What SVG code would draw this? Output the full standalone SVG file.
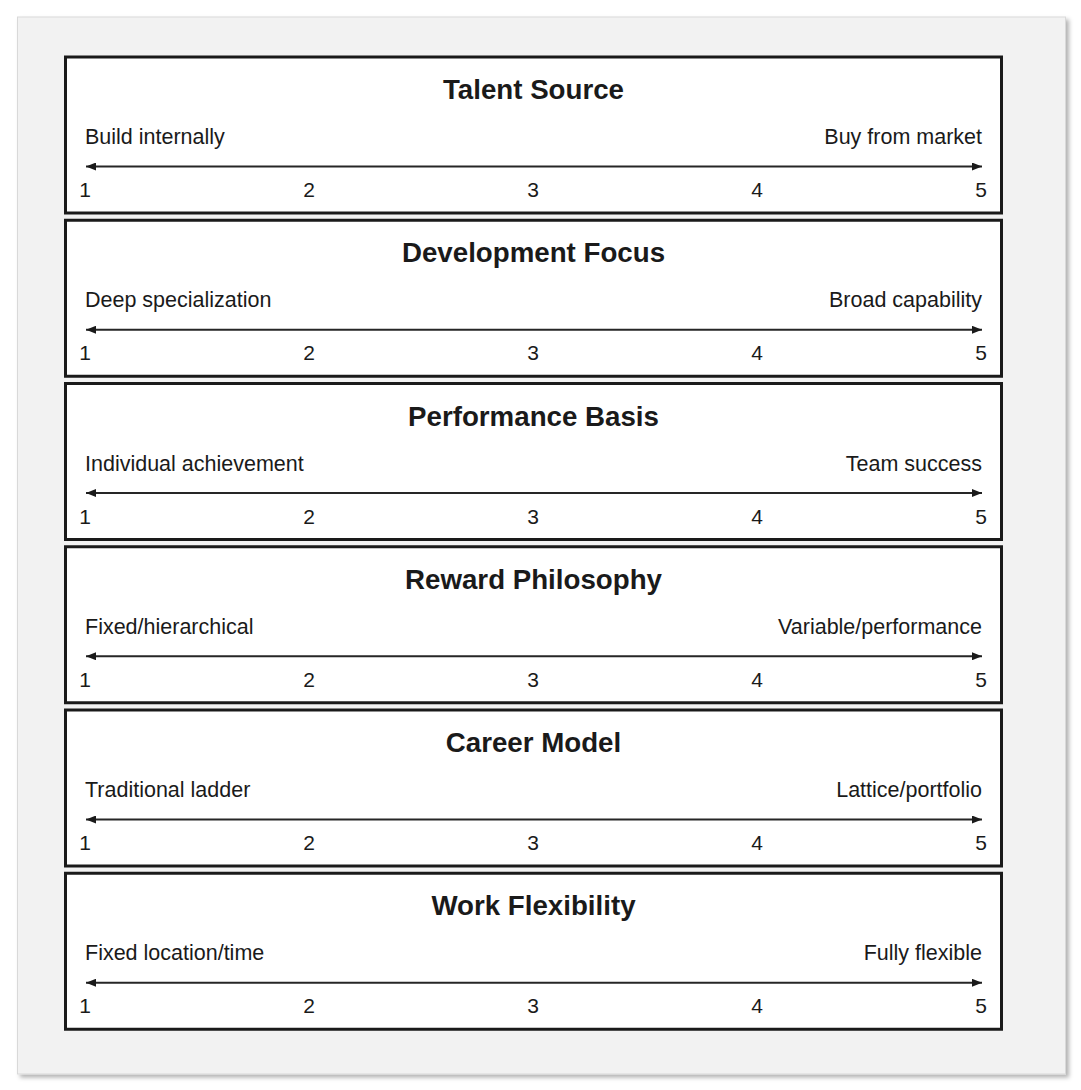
<svg xmlns="http://www.w3.org/2000/svg" width="1081" height="1090" viewBox="0 0 1081 1090">
<style>
.box{fill:#ffffff;stroke:#1a1a1a;stroke-width:3}
.title{font-family:"Liberation Sans",Arial,sans-serif;font-weight:bold;font-size:27.7px;fill:#1a1a1a;text-anchor:middle}
.lbl{font-family:"Liberation Sans",Arial,sans-serif;font-size:21.5px;fill:#1a1a1a}
.num{font-family:"Liberation Sans",Arial,sans-serif;font-size:21px;fill:#1a1a1a;text-anchor:middle}
.axis{stroke:#262626;stroke-width:2;fill:none;marker-start:url(#ah);marker-end:url(#ah)}
</style>
<defs>
<marker id="ah" viewBox="0 0 10 8" refX="10" refY="4" markerWidth="10" markerHeight="8" markerUnits="userSpaceOnUse" orient="auto-start-reverse">
<path d="M0,0 L10,4 L0,8 Z" fill="#1a1a1a"/>
</marker>
<filter id="sh" x="-5%" y="-5%" width="110%" height="110%">
<feDropShadow dx="3" dy="3" stdDeviation="2" flood-color="#000000" flood-opacity="0.3"/>
</filter>
</defs>
<rect x="17.5" y="17" width="1048" height="1057" fill="#f2f2f2" stroke="#d9d9d9" stroke-width="1" filter="url(#sh)"/>

<g id="node-talent-source">
<rect class="box" x="65.5" y="57" width="936" height="156"/>
<text class="title" x="533.5" y="99">Talent Source</text>
<text class="lbl" x="85" y="144">Build internally</text>
<text class="lbl" x="982" y="144" text-anchor="end">Buy from market</text>
<text class="num" x="85" y="197">1</text><text class="num" x="309" y="197">2</text><text class="num" x="533" y="197">3</text><text class="num" x="757" y="197">4</text><text class="num" x="981" y="197">5</text>
</g>
<g id="node-development-focus">
<rect class="box" x="65.5" y="220.25" width="936" height="156"/>
<text class="title" x="533.5" y="262.25">Development Focus</text>
<text class="lbl" x="85" y="307.25">Deep specialization</text>
<text class="lbl" x="982" y="307.25" text-anchor="end">Broad capability</text>
<text class="num" x="85" y="360.25">1</text><text class="num" x="309" y="360.25">2</text><text class="num" x="533" y="360.25">3</text><text class="num" x="757" y="360.25">4</text><text class="num" x="981" y="360.25">5</text>
</g>
<g id="node-performance-basis">
<rect class="box" x="65.5" y="383.5" width="936" height="156"/>
<text class="title" x="533.5" y="425.5">Performance Basis</text>
<text class="lbl" x="85" y="470.5">Individual achievement</text>
<text class="lbl" x="982" y="470.5" text-anchor="end">Team success</text>
<text class="num" x="85" y="523.5">1</text><text class="num" x="309" y="523.5">2</text><text class="num" x="533" y="523.5">3</text><text class="num" x="757" y="523.5">4</text><text class="num" x="981" y="523.5">5</text>
</g>
<g id="node-reward-philosophy">
<rect class="box" x="65.5" y="546.75" width="936" height="156"/>
<text class="title" x="533.5" y="588.75">Reward Philosophy</text>
<text class="lbl" x="85" y="633.75">Fixed/hierarchical</text>
<text class="lbl" x="982" y="633.75" text-anchor="end">Variable/performance</text>
<text class="num" x="85" y="686.75">1</text><text class="num" x="309" y="686.75">2</text><text class="num" x="533" y="686.75">3</text><text class="num" x="757" y="686.75">4</text><text class="num" x="981" y="686.75">5</text>
</g>
<g id="node-career-model">
<rect class="box" x="65.5" y="710" width="936" height="156"/>
<text class="title" x="533.5" y="752">Career Model</text>
<text class="lbl" x="85" y="797">Traditional ladder</text>
<text class="lbl" x="982" y="797" text-anchor="end">Lattice/portfolio</text>
<text class="num" x="85" y="850">1</text><text class="num" x="309" y="850">2</text><text class="num" x="533" y="850">3</text><text class="num" x="757" y="850">4</text><text class="num" x="981" y="850">5</text>
</g>
<g id="node-work-flexibility">
<rect class="box" x="65.5" y="873.25" width="936" height="156"/>
<text class="title" x="533.5" y="915.25">Work Flexibility</text>
<text class="lbl" x="85" y="960.25">Fixed location/time</text>
<text class="lbl" x="982" y="960.25" text-anchor="end">Fully flexible</text>
<text class="num" x="85" y="1013.25">1</text><text class="num" x="309" y="1013.25">2</text><text class="num" x="533" y="1013.25">3</text><text class="num" x="757" y="1013.25">4</text><text class="num" x="981" y="1013.25">5</text>
</g>

<g id="connectors">
<line class="axis" x1="86" y1="166.5" x2="982" y2="166.5"/>
<line class="axis" x1="86" y1="329.75" x2="982" y2="329.75"/>
<line class="axis" x1="86" y1="493" x2="982" y2="493"/>
<line class="axis" x1="86" y1="656.25" x2="982" y2="656.25"/>
<line class="axis" x1="86" y1="819.5" x2="982" y2="819.5"/>
<line class="axis" x1="86" y1="982.75" x2="982" y2="982.75"/>
</g>
</svg>
